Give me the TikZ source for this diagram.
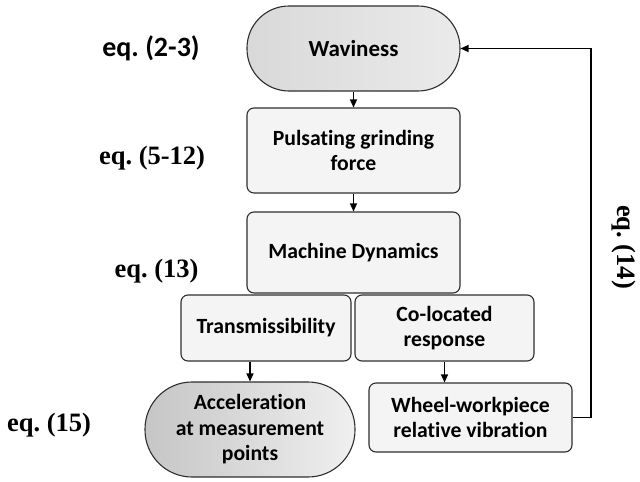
\documentclass[tikz,border=0pt]{standalone}
\usepackage{fontspec}
\setmainfont{Carlito}[Ligatures=NoCommon]
\newfontfamily\eqserif{Liberation Serif}[BoldFont={Liberation Serif Bold}]
\usetikzlibrary{arrows.meta}
\frenchspacing
\definecolor{edgec}{HTML}{2E2E2E}
\definecolor{boxfill}{HTML}{F4F4F4}
\tikzset{
  arr/.style={draw=black, line width=1.2pt, -{Triangle[length=8pt,width=7pt]}},
  procbox/.style={draw=edgec, line width=1.1pt, fill=boxfill, rounded corners=7pt,
    align=center, font=\bfseries\fontsize{21.7}{25}\selectfont, inner sep=2pt},
  termbox/.style={draw=edgec, line width=1.1pt, align=center,
    font=\bfseries\fontsize{21.7}{25.5}\selectfont, inner sep=2pt},
  eqsans/.style={font=\bfseries\fontsize{28}{32}\selectfont},
  eqser/.style={font=\eqserif\bfseries\fontsize{26.5}{30}\selectfont},
}
\begin{document}
\begin{tikzpicture}[x=1pt,y=-1pt]
\useasboundingbox (0,0) rectangle (640,482);
\node[termbox, minimum width=213pt, minimum height=85pt, rounded corners=42pt,
  left color=gray!30, right color=gray!16, font=\bfseries\fontsize{23}{27}\selectfont] (wav) at (353.5,48.5) {Waviness};
\node[procbox, minimum width=213pt, minimum height=85pt] (puls) at (353.5,150.5) {Pulsating grinding\\force};
\node[procbox, minimum width=213pt, minimum height=81pt] (mach) at (353.5,252.5) {Machine Dynamics};
\node[procbox, minimum width=170pt, minimum height=66pt] (trans) at (266,328) {Transmissibility};
\node[procbox, minimum width=179pt, minimum height=66pt] (coloc) at (444.5,328) {Co-located\\response};
\node[termbox, minimum width=210pt, minimum height=95pt, rounded corners=47pt,
  left color=gray!45, right color=gray!12] (acc) at (250,429.5) {Acceleration\\at measurement\\points};
\node[procbox, minimum width=203pt, minimum height=69pt] (wheel) at (470.5,417.5) {Wheel-workpiece\\relative vibration};
\coordinate (fbb) at (591,417.5);
\coordinate (fbt) at (591,48.5);
\draw[arr] (wav.south) -- (puls.north);
\draw[arr] (puls.south) -- (mach.north);
\draw[arr] (acc.north |- trans.south) -- (acc.north);
\draw[arr] (coloc.south) -- (coloc.south |- wheel.north);
\draw[arr] (wheel.east) -- (fbb) -- (fbt) -- (wav.east);
\node[eqsans] (e1) at (151,48) {eq. (2-3)};
\node[eqser] (e2) at (152,158) {eq. (5-12)};
\node[eqser] (e3) at (156.5,271) {eq. (13)};
\node[eqser] (e4) at (49,425) {eq. (15)};
\node[eqser, rotate=-90] (e5) at (624,247) {eq. (14)};
\end{tikzpicture}
\end{document}
